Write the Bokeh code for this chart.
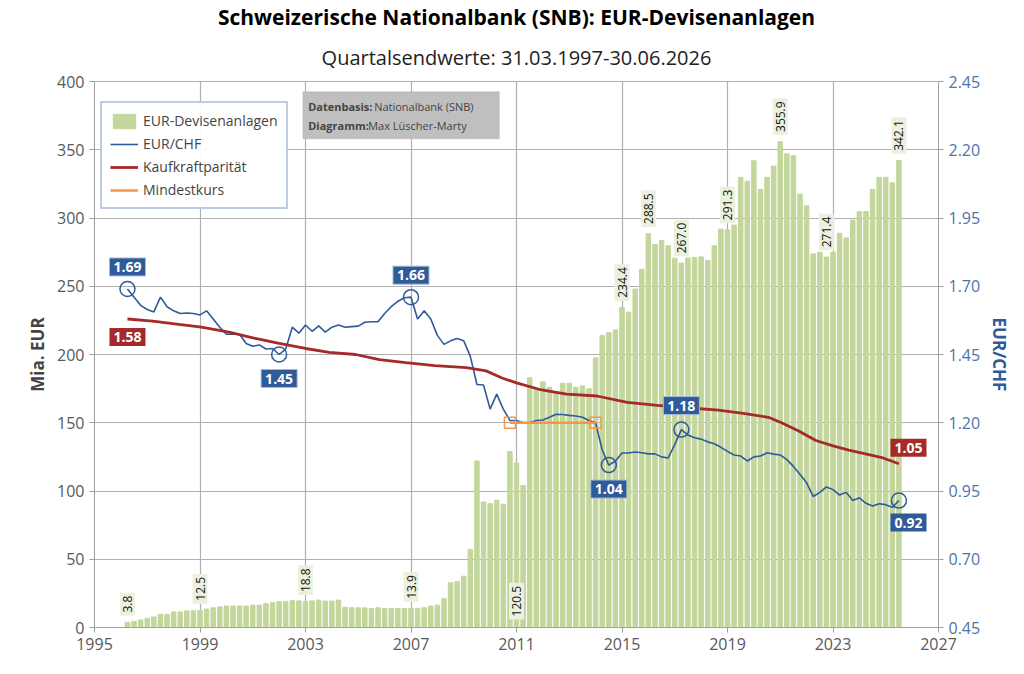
import math
from bokeh.plotting import figure
from bokeh.models import (Range1d, LinearAxis, SingleIntervalTicker, NumeralTickFormatter,
                          Label, Legend, LegendItem, BoxAnnotation, Title, FixedTicker)
from bokeh.embed import file_html
from bokeh.resources import INLINE

quarters = [1996.25 + 0.25 * i for i in range(118)]
reserves = [3.8,4.5,5.5,6.7,7.7,9.7,9.7,11.4,11.4,12.2,
            12.3,12.5,13.5,14.4,15.2,15.7,15.7,15.7,15.7,16.4,
            16.4,17.4,18.2,18.9,18.9,19.7,19.5,18.8,19.5,20.1,
            19.4,19.4,20.1,14.9,14.4,14.4,14.4,13.9,14.4,13.9,
            13.9,13.9,13.9,13.9,14.0,14.4,15.7,16.4,21.1,32.8,
            33.6,37.6,57.2,122,92,90.8,93.3,90.3,128.9,120.5,
            104,183,175,180,176,173,179,179,176,177,
            175,197.5,214,216,218,234.4,231,248,262.5,288.5,
            280.6,283.6,279.7,270.5,267.0,270.7,271,271.5,269,279.7,
            291.8,291.3,294.8,329.8,327,341.9,321,329.8,338,355.9,
            347,345.7,317.6,309,273.7,275,271.4,274.7,288.8,285.4,
            298.5,304.7,304.7,321,329.8,329.8,325.8,342.1]
eurchf = [1.69,1.66,1.63,1.615,1.606,1.66,1.625,1.61,1.60,1.602,
          1.60,1.595,1.61,1.58,1.55,1.524,1.524,1.524,1.49,1.48,
          1.485,1.47,1.472,1.45,1.47,1.55,1.528,1.558,1.535,1.555,
          1.532,1.55,1.558,1.55,1.552,1.554,1.568,1.57,1.57,1.60,
          1.625,1.645,1.658,1.66,1.58,1.61,1.58,1.52,1.487,1.50,
          1.509,1.50,1.443,1.34,1.338,1.25,1.305,1.25,1.208,1.208,
          1.20,1.20,1.208,1.21,1.22,1.231,1.23,1.227,1.225,1.22,
          1.208,1.20,1.10,1.045,1.06,1.089,1.089,1.093,1.09,1.086,
          1.086,1.075,1.071,1.12,1.175,1.155,1.145,1.14,1.13,1.123,
          1.11,1.095,1.082,1.078,1.06,1.075,1.078,1.09,1.085,1.082,
          1.065,1.04,1.01,0.98,0.93,0.945,0.965,0.955,0.935,0.945,
          0.915,0.925,0.905,0.895,0.903,0.90,0.89,0.915]
ppp_years = [1996.25,1997.2,1998.2,1999.05,2000.1,2001.05,2002.0,2003.0,2003.9,2004.9,
             2005.8,2006.8,2007.9,2009.1,2009.85,2010.45,2011.0,2011.95,2012.9,2014.05,
             2015.2,2016.35,2017.5,2018.65,2019.6,2020.55,2021.05,2021.7,2022.35,2023.0,2023.6,2024.9,2025.5]
ppp = [1.58,1.572,1.56,1.55,1.532,1.51,1.491,1.472,1.458,1.45,
       1.431,1.42,1.409,1.402,1.39,1.364,1.346,1.32,1.305,1.298,
       1.275,1.264,1.255,1.246,1.234,1.22,1.20,1.17,1.135,1.115,1.10,1.071,1.05]
floor_years = [2010.75, 2014.0]
floor_rate = [1.20, 1.20]
bar_label_idx = [0, 11, 27, 43, 59, 75, 79, 84, 91, 99, 106, 117]
blue_call_idx = [0, 23, 43, 73, 84]

GREEN = "#c3d69b"; BLUE = "#2f5b98"; RED = "#a52a2a"; ORANGE = "#f79646"
GRAY = "#595959"
FONT = "Open Sans"

p = figure(width=1016, height=666, output_backend="svg", toolbar_location=None,
           x_range=Range1d(1995, 2027), y_range=Range1d(0, 400),
           min_border_left=94, min_border_right=78, min_border_bottom=39, min_border_top=4)
p.extra_y_ranges = {"fx": Range1d(0.45, 2.45)}
p.add_layout(Title(text="Quartalsendwerte: 31.03.1997-30.06.2026", align="center",
                   text_font=FONT, text_font_size="20px", text_font_style="normal",
                   text_color="#222222", standoff=22), "above")
p.add_layout(Title(text="Schweizerische Nationalbank (SNB): EUR-Devisenanlagen", align="center",
                   text_font=FONT, text_font_size="21px", text_font_style="bold",
                   text_color="#000000", standoff=0), "above")

p.xaxis.ticker = FixedTicker(ticks=list(range(1995, 2028, 4)))
p.yaxis.ticker = SingleIntervalTicker(interval=50)
for ax in [p.xaxis[0], p.yaxis[0]]:
    ax.major_label_text_font = FONT
    ax.major_label_text_font_size = "16px"
    ax.major_label_text_color = GRAY
    ax.axis_line_color = "#a0a0a0"
    ax.major_tick_line_color = "#a0a0a0"
    ax.minor_tick_line_color = None
    ax.major_tick_out = 5; ax.major_tick_in = 0
p.yaxis.axis_label = "Mia. EUR"
p.yaxis.axis_label_text_font = FONT
p.yaxis.axis_label_text_font_size = "17px"
p.yaxis.axis_label_text_font_style = "bold"
rax = LinearAxis(y_range_name="fx", ticker=FixedTicker(ticks=[0.45,0.70,0.95,1.20,1.45,1.70,1.95,2.20,2.45]),
                 formatter=NumeralTickFormatter(format="0.00"), axis_label="EUR/CHF")
rax.major_label_text_font = FONT; rax.major_label_text_font_size = "16px"
rax.major_label_text_color = "#4f74a8"
rax.axis_label_text_color = BLUE; rax.axis_label_text_font = FONT
rax.axis_label_text_font_size = "17px"; rax.axis_label_text_font_style = "bold"
rax.axis_line_color = "#a0a0a0"; rax.major_tick_line_color = "#a0a0a0"; rax.minor_tick_line_color = None
rax.major_tick_out = 5; rax.major_tick_in = 0
p.add_layout(rax, "right")
p.grid.grid_line_color = "#b0b0b0"
p.grid.grid_line_width = 1.2
p.outline_line_color = "#b0b0b0"

bars = p.vbar(x=quarters, top=reserves, width=0.17, color=GREEN)
bl = p.line(quarters, eurchf, y_range_name="fx", color=BLUE, line_width=1.6)
rl = p.line(ppp_years, ppp, y_range_name="fx", color=RED, line_width=2.8)
ol = p.line(floor_years, floor_rate, y_range_name="fx", color=ORANGE, line_width=2.5)
p.scatter(floor_years, floor_rate, y_range_name="fx", marker="square", size=11,
          fill_color=None, line_color=ORANGE, line_width=1.5)
p.scatter([quarters[i] for i in blue_call_idx + [117]], [eurchf[i] for i in blue_call_idx + [117]],
          y_range_name="fx", marker="circle", size=15, fill_color=None, line_color=BLUE, line_width=1.5)

# bar value labels
for i in bar_label_idx:
    yv = reserves[i] + 2 if reserves[i] != 120.5 else 3
    p.add_layout(Label(x=quarters[i], y=yv, text="%.1f" % reserves[i], angle=math.pi/2,
                       text_align="left", text_baseline="middle", text_font=FONT,
                       text_font_size="12px", text_color="#111111",
                       background_fill_color="#ebf1de", padding=3, y_offset=4))

common = dict(y_range_name="fx", text_baseline="middle", text_font=FONT, text_font_size="14px",
              text_font_style="bold", text_color="white", padding=4, level="overlay")
# blue callouts
offs = {0: (0, 22), 23: (0, -24), 43: (0, 22), 73: (0, -24), 84: (0, 24)}
for i in blue_call_idx:
    p.add_layout(Label(x=quarters[i], y=eurchf[i], text="%.2f" % eurchf[i],
                       x_offset=offs[i][0], y_offset=offs[i][1], text_align="center",
                       background_fill_color=BLUE, border_line_color="#a6b9d8", **common))
# end-of-series labels kept inside the plot frame (annotations are clipped to it)
p.add_layout(Label(x=832, x_units="screen", y=eurchf[-1], y_offset=-22, text="%.2f" % eurchf[-1],
                   text_align="right", background_fill_color=BLUE, **common))
# red callouts
p.add_layout(Label(x=ppp_years[0], y=ppp[0], text="%.2f" % ppp[0], y_offset=-18,
                   text_align="center", background_fill_color=RED, **common))
p.add_layout(Label(x=832, x_units="screen", y=ppp[-1], y_offset=16, text="%.2f" % ppp[-1],
                   text_align="right", background_fill_color=RED, **common))

# source box
p.add_layout(BoxAnnotation(left=2002.9, right=2010.35, bottom=358, top=392.5,
                           fill_color="#bfbfbf", fill_alpha=1, line_color="#a0a0a0"))
for yy, b, n in [(382, "Datenbasis:", "Nationalbank (SNB)"), (368, "Diagramm:", "Max Lüscher-Marty")]:
    p.add_layout(Label(x=2003.1, y=yy, text=b, text_font=FONT, text_font_size="11px",
                       text_font_style="bold", text_baseline="middle"))
    p.add_layout(Label(x=2003.1, y=yy, x_offset=(66 if b.startswith("Daten") else 60), text=n,
                       text_font=FONT, text_font_size="11px", text_baseline="middle"))

legend = Legend(items=[LegendItem(label="EUR-Devisenanlagen", renderers=[bars]),
                       LegendItem(label="EUR/CHF", renderers=[bl]),
                       LegendItem(label="Kaufkraftparität", renderers=[rl]),
                       LegendItem(label="Mindestkurs", renderers=[ol])],
                location=(6, 418), label_text_font=FONT, label_text_font_size="14px",
                border_line_color="#7f9cc7", border_line_width=2, spacing=4, padding=8,
                glyph_width=28, label_height=18, glyph_height=18, margin=0)
p.add_layout(legend)

open("out.html", "w").write(file_html(p, INLINE))
